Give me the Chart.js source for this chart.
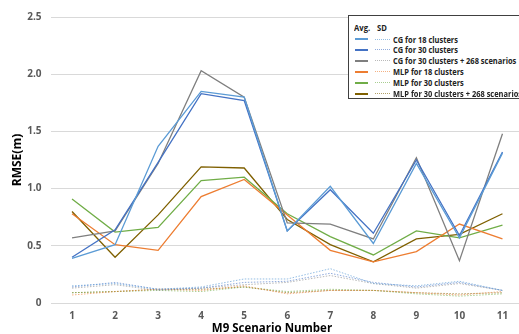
<!DOCTYPE html>
<html>
<head>
<meta charset="utf-8">
<script src="https://cdn.jsdelivr.net/npm/chart.js@4/dist/chart.umd.min.js"></script>
<style>
  body { margin: 0; overflow: hidden; background: #fff; }
  #wrap { position: relative; width: 524px; height: 334px; }
  #legend {
    position: absolute; left: 348px; top: 15px; width: 180px; height: 84px;
    border: 1px solid #404040; background: #fff; box-sizing: border-box;
    font-family: "Open Sans", sans-serif; font-weight: 700; font-size: 9px; color: #222;
  }
  #legend .hdr { position: absolute; top: 5px; left: 5px; transform: scaleX(0.85); transform-origin: left; }
  #legend .hdr span { display: inline-block; }
  #legend .row { position: absolute; left: 6px; height: 10px; display: flex; align-items: center; white-space: nowrap; }
  #legend .solid { width: 13px; height: 0; border-top: 2px solid; margin-right: 7px; }
  #legend .dot { width: 15px; height: 0; border-top: 1px dotted; margin-right: 3px; }
  #legend .txt { display: inline-block; transform: scaleX(0.83); transform-origin: left; }
  #xtitle {
    position: absolute; left: 172px; width: 200px; top: 320px; text-align: center;
    font-family: "Open Sans", sans-serif; font-weight: 700; font-size: 11.5px; color: #000;
  }
</style>
</head>
<body>
<div id="wrap">
  <canvas id="lineChart" width="524" height="334"></canvas>
  <div id="legend"></div>
  <div id="xtitle">M9 Scenario Number</div>
</div>
<script>
var scenarios = ["1", "2", "3", "4", "5", "6", "7", "8", "9", "10", "11"];
var names = ["CG for 18 clusters", "CG for 30 clusters", "CG for 30 clusters + 268 scenarios",
             "MLP for 18 clusters", "MLP for 30 clusters", "MLP for 30 clusters + 268 scenarios"];

// average RMSE
var cg18Avg    = [0.39, 0.51, 1.37, 1.85, 1.80, 0.63, 1.02, 0.52, 1.22, 0.57, 1.31];
var cg30Avg    = [0.40, 0.64, 1.23, 1.83, 1.77, 0.63, 0.99, 0.61, 1.25, 0.59, 1.32];
var cg268Avg   = [0.57, 0.63, 1.22, 2.03, 1.80, 0.70, 0.69, 0.56, 1.27, 0.37, 1.48];
var mlp18Avg   = [0.78, 0.51, 0.46, 0.93, 1.08, 0.77, 0.46, 0.36, 0.45, 0.69, 0.56];
var mlp30Avg   = [0.91, 0.62, 0.66, 1.07, 1.10, 0.78, 0.58, 0.42, 0.63, 0.57, 0.68];
var mlp268Avg  = [0.80, 0.40, 0.77, 1.19, 1.18, 0.73, 0.51, 0.36, 0.56, 0.60, 0.78];

// standard deviation
var cg18Sd   = [0.15, 0.17, 0.12, 0.14, 0.21, 0.21, 0.30, 0.17, 0.15, 0.19, 0.11];
var cg30Sd   = [0.14, 0.18, 0.12, 0.13, 0.18, 0.19, 0.26, 0.18, 0.14, 0.18, 0.11];
var cg268Sd  = [0.13, 0.16, 0.11, 0.13, 0.16, 0.18, 0.24, 0.17, 0.13, 0.17, 0.11];
var mlp18Sd  = [0.07, 0.10, 0.12, 0.11, 0.15, 0.08, 0.11, 0.11, 0.09, 0.07, 0.10];
var mlp30Sd  = [0.09, 0.10, 0.11, 0.10, 0.14, 0.10, 0.12, 0.11, 0.08, 0.06, 0.08];
var mlp268Sd = [0.09, 0.10, 0.12, 0.12, 0.14, 0.09, 0.11, 0.11, 0.09, 0.08, 0.09];

var yTicks = [0, 0.5, 1, 1.5, 2, 2.5];

var colors   = ['#5B9BD5', '#4472C4', '#7F7F7F', '#ED7D31', '#70AD47', '#7F6000'];
var sdColors = ['rgba(91,155,213,.65)', 'rgba(68,114,196,.6)', 'rgba(127,127,127,.55)',
                'rgba(237,125,49,.6)', 'rgba(112,173,71,.6)', 'rgba(127,96,0,.6)'];
var avgs = [cg18Avg, cg30Avg, cg268Avg, mlp18Avg, mlp30Avg, mlp268Avg];
var sds  = [cg18Sd, cg30Sd, cg268Sd, mlp18Sd, mlp30Sd, mlp268Sd];

var datasets = [];
sds.forEach(function (d, i) {
	datasets.push({ label: names[i] + ' SD', data: d, borderColor: sdColors[i], borderWidth: 1,
		borderDash: [1.5, 1.5], pointRadius: 0, tension: 0, fill: false });
});
avgs.forEach(function (d, i) {
	datasets.push({ label: names[i] + ' Avg.', data: d, borderColor: colors[i], borderWidth: 1.3,
		pointRadius: 0, tension: 0, fill: false });
});

var tickFont = { family: 'Open Sans', size: 10, weight: 'bold' };

var ctxL = document.getElementById("lineChart").getContext('2d');
var myLineChart = new Chart(ctxL, {
	type: 'line',
	data: { labels: scenarios, datasets: datasets },
	options: {
		responsive: false,
		animation: false,
		layout: { padding: { top: 17, left: 0, right: 0, bottom: 0 } },
		plugins: { legend: { display: false }, tooltip: { enabled: false } },
		scales: {
			x: {
				offset: true,
				grid: { display: false, drawTicks: false },
				border: { display: false },
				ticks: { color: '#595959', font: tickFont, padding: 7, maxRotation: 0 },
				afterFit: function (s) { s.height = 31; }
			},
			y: {
				min: 0, max: 2.5,
				afterBuildTicks: function (s) { s.ticks = yTicks.map(function (v) { return { value: v }; }); },
				grid: { color: '#D9D9D9', lineWidth: 1, drawTicks: false },
				border: { display: false },
				ticks: { color: '#595959', font: tickFont, padding: 9 },
				title: { display: true, text: 'RMSE(m)', color: '#000',
					font: { family: 'Open Sans', size: 12, weight: 'bold' }, padding: { top: 10, bottom: 0 } },
				afterFit: function (s) { s.width = 50.5; }
			}
		}
	}
});

// legend with Avg. / SD columns
var lg = document.getElementById('legend');
var html = '<div class="hdr"><span style="width:27px">Avg.</span><span>SD</span></div>';
names.forEach(function (n, i) {
	html += '<div class="row" style="top:' + (18 + i * 10.9) + 'px">' +
		'<span class="solid" style="border-color:' + colors[i] + '"></span>' +
		'<span class="dot" style="border-color:' + sdColors[i] + '"></span>' +
		'<span class="txt">' + n + '</span></div>';
});
lg.innerHTML = html;
</script>
</body>
</html>
